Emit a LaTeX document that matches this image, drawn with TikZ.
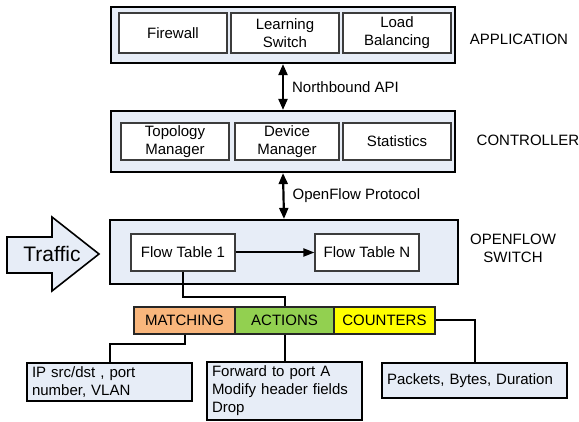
\documentclass[tikz,border=0pt]{standalone}
\usepackage{fontspec}
\setmainfont{Liberation Sans}
\usetikzlibrary{arrows.meta}
\definecolor{boxfill}{RGB}{231,237,247}
\definecolor{matchfill}{RGB}{249,182,124}
\definecolor{actfill}{RGB}{146,208,80}
\definecolor{cntfill}{RGB}{255,255,0}
\definecolor{innerline}{RGB}{60,60,60}
\begin{document}
\begin{tikzpicture}[x=1pt,y=-1pt,
  font=\fontsize{15}{18}\selectfont,
  outerbox/.style={draw=black,line width=2.2pt,fill=boxfill,inner sep=0pt},
  innerbox/.style={draw=innerline,line width=1.1pt,fill=white,align=center,inner sep=0pt,minimum width=108pt},
  bar/.style={draw=black!85,line width=1.5pt,inner sep=0pt,minimum height=27pt},
  infobox/.style={draw=black,line width=2pt,fill=boxfill,align=left,inner xsep=5pt,inner ysep=0pt},
  conn/.style={draw=black,line width=2pt},
  biarrow/.style={line width=2.2pt,{Triangle[length=11pt,width=9pt]}-{Triangle[length=11pt,width=9pt]}},
  layerlabel/.style={align=center,inner sep=0pt}
]
\useasboundingbox (0,0) rectangle (579,422);

% Application layer
\node[outerbox,minimum width=344pt,minimum height=56pt] (app) at (283,35) {};
\node[innerbox,minimum height=40pt] (fw) at (173,33) {Firewall};
\node[innerbox,minimum height=40pt] (ls) at (285,33) {Learning\\Switch};
\node[innerbox,minimum height=40pt] (lb) at (397,33) {Load\\Balancing};
\node[layerlabel] (applbl) at (519,39) {APPLICATION};

% Controller layer
\node[outerbox,minimum width=344pt,minimum height=61pt] (ctrl) at (283,141.5) {};
\node[innerbox,minimum height=37pt] (topo) at (175,141.5) {Topology\\Manager};
\node[innerbox,minimum height=37pt,minimum width=104pt] (dev) at (287,141.5) {Device\\Manager};
\node[innerbox,minimum height=37pt] (stats) at (397,141.5) {Statistics};
\node[layerlabel] (ctrllbl) at (528,140) {CONTROLLER};

% Northbound API
\draw[biarrow] (app.south) -- (ctrl.north)
  node[midway,right=8pt,inner sep=0pt] (nbapi) {Northbound API};

% Switch layer
\node[outerbox,minimum width=348pt,minimum height=64pt] (sw) at (284,252) {};
\node[innerbox,minimum width=104pt,minimum height=37pt] (ft1) at (183,252.5) {Flow Table 1};
\node[innerbox,minimum width=104pt,minimum height=37pt] (ftn) at (367,252.5) {Flow Table N};
\node[layerlabel] (swlbl) at (513,248) {OPENFLOW\\SWITCH};
\draw[conn,-{Triangle[length=11pt,width=8pt]}] (ft1.east) -- (ftn.west);

% OpenFlow protocol
\draw[biarrow] (ctrl.south) -- (sw.north)
  node[midway,right=8pt,inner sep=0pt] (ofp) {OpenFlow Protocol};

% Traffic arrow
\draw[line width=1.6pt,fill=boxfill] (7,237) -- (52,237) -- (52,217) -- (99,254)
  -- (52,291) -- (52,273) -- (7,273) -- cycle;
\node[inner sep=0pt,font=\fontsize{21}{24}\selectfont] (traffic) at (52,254) {Traffic};

% Flow entry bar
\node[bar,fill=matchfill,minimum width=101pt] (match) at (184.5,320.5) {MATCHING};
\node[bar,fill=actfill,minimum width=99pt] (act) at (284.5,320.5) {ACTIONS};
\node[bar,fill=cntfill,minimum width=101pt] (cnt) at (384.5,320.5) {COUNTERS};

\draw[conn] (ft1.south) |- ([yshift=9pt]act.north) -- (act.north);

% Details
\node[infobox,text width=155pt,minimum height=38pt] (ipbox) at (109.5,382) {IP src/dst , port\\number, VLAN};
\node[infobox,text width=145pt,minimum height=58pt] (actbox) at (284.5,391) {Forward to port A\\Modify header fields\\Drop};
\node[infobox,text width=175pt,minimum height=35pt] (cntbox) at (474.5,380.5) {Packets, Bytes, Duration};

\draw[conn] (match.south) -- ++(0,9) -| (ipbox.north);
\draw[conn] (act.south) -- (actbox.north);
\draw[conn] (cnt.east) -| (cntbox.north);
\end{tikzpicture}
\end{document}
